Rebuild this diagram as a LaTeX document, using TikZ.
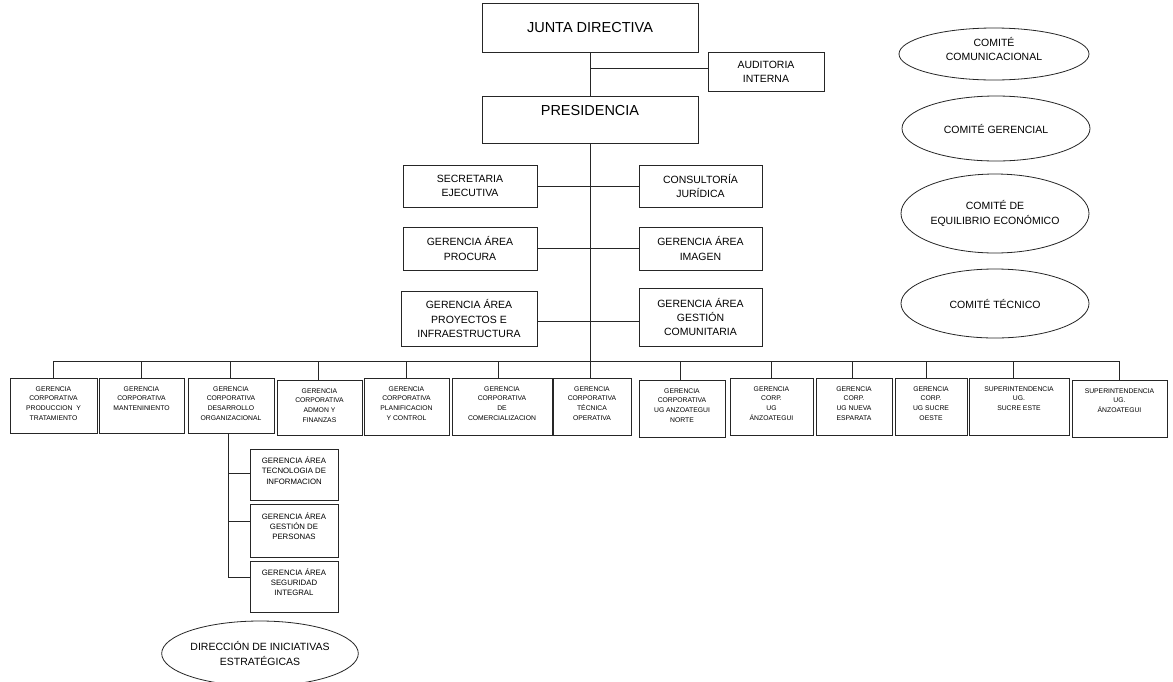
\documentclass[tikz,border=0pt]{standalone}
\usepackage{fontspec}
\setmainfont{Liberation Sans}
\usetikzlibrary{shapes.geometric}
\begin{document}
\begin{tikzpicture}[x=1pt,y=-1pt,
  box/.style={draw=black!85, line width=0.9pt, rectangle, inner sep=0pt, align=center},
  oval/.style={draw=black!85, line width=0.8pt, ellipse, inner sep=0pt, align=center},
  conn/.style={draw=black!85, line width=0.8pt},
  bigtxt/.style={font=\fontsize{14.5}{17}\selectfont},
  midtxt/.style={font=\fontsize{10.5}{14.3}\selectfont},
  subtxt/.style={font=\fontsize{7.8}{10.3}\selectfont, inner sep=0pt, align=center, anchor=north},
  tinytxt/.style={font=\fontsize{6.8}{9.7}\selectfont, inner sep=0pt, align=center, anchor=north}
]
\useasboundingbox (0,0) rectangle (1173,681);
\clip (0,0) rectangle (1173,681);
\fill[white] (0,0) rectangle (1173,681);

% top
\node[box, bigtxt, minimum width=216pt, minimum height=49pt] (junta) at (590,27.5) {JUNTA DIRECTIVA};
\node[box, midtxt, minimum width=116pt, minimum height=39pt] (aud) at (766,71.5) {AUDITORIA\\INTERNA};
\node[box, minimum width=216pt, minimum height=47pt] (pres) at (590,119.5) {};
\node[bigtxt, inner sep=0pt, anchor=north] (prest) at ([yshift=-10pt]pres.north) {PRESIDENCIA};

% middle
\node[box, midtxt, minimum width=134pt, minimum height=42pt] (sec) at (470,186) {SECRETARIA\\EJECUTIVA};
\node[box, midtxt, minimum width=123pt, minimum height=42pt] (cons) at (700.5,186) {CONSULTORÍA\\JURÍDICA};
\node[box, midtxt, minimum width=134pt, minimum height=43pt] (proc) at (470,248.5) {GERENCIA ÁREA\\PROCURA};
\node[box, midtxt, minimum width=123pt, minimum height=43pt] (img) at (700.5,248.5) {GERENCIA ÁREA\\IMAGEN};
\node[box, midtxt, minimum width=136pt, minimum height=55pt] (proy) at (469,318.5) {GERENCIA ÁREA\\PROYECTOS E\\INFRAESTRUCTURA};
\node[box, midtxt, minimum width=123pt, minimum height=58pt] (gest) at (700.5,317) {GERENCIA ÁREA\\GESTIÓN\\COMUNITARIA};

% committees
\node[oval, minimum width=190pt, minimum height=52pt] (c1) at (994,54) {};
\node[midtxt, align=center, inner sep=0pt] (c1t) at ([yshift=5pt]c1.center) {COMITÉ\\COMUNICACIONAL};
\node[oval, midtxt, minimum width=188pt, minimum height=65pt] (c2) at (996,128.5) {COMITÉ GERENCIAL};
\node[oval, midtxt, minimum width=188pt, minimum height=79pt] (c3) at (995,213.5) {COMITÉ DE\\EQUILIBRIO ECONÓMICO};
\node[oval, midtxt, minimum width=188pt, minimum height=69pt] (c4) at (995,303.5) {COMITÉ TÉCNICO};
\node[oval, midtxt, minimum width=194pt, minimum height=65pt] (dir) at (260,653.5) {DIRECCIÓN DE INICIATIVAS\\ESTRATÉGICAS};

% bottom row boxes
\foreach \n/\cx/\w/\cy/\h in {b1/53.5/87/405.5/55, b2/141.5/85/405.5/55, b3/231/86/405.5/55,
  b4/319.5/85/407.5/55, b5/406.5/85/406.5/57, b6/502/100/406.5/57, b7/592/78/406.5/57,
  b8/682/86/408.5/57, b9/771.5/83/406.5/57, b10/854/76/406.5/57, b11/931/72/406.5/57,
  b12/1019/100/406.5/57, b13/1119.5/95/408.5/57}
  \node[box, minimum width=\w pt, minimum height=\h pt] (\n) at (\cx,\cy) {};

\node[tinytxt] (b1t) at ([yshift=-8.5pt]b1.north) {GERENCIA\\CORPORATIVA\\PRODUCCION \ Y\\TRATAMIENTO};
\node[tinytxt] (b2t) at ([yshift=-8.5pt]b2.north) {GERENCIA\\CORPORATIVA\\MANTENINIENTO};
\node[tinytxt] (b3t) at ([yshift=-8.5pt]b3.north) {GERENCIA\\CORPORATIVA\\DESARROLLO\\ORGANIZACIONAL};
\node[tinytxt] (b4t) at ([yshift=-8.5pt]b4.north) {GERENCIA\\CORPORATIVA\\ADMON Y\\FINANZAS};
\node[tinytxt] (b5t) at ([yshift=-8.5pt]b5.north) {GERENCIA\\CORPORATIVA\\PLANIFICACION\\Y CONTROL};
\node[tinytxt] (b6t) at ([yshift=-8.5pt]b6.north) {GERENCIA\\CORPORATIVA\\DE\\COMERCIALIZACION};
\node[tinytxt] (b7t) at ([yshift=-8.5pt]b7.north) {GERENCIA\\CORPORATIVA\\TÉCNICA\\OPERATIVA};
\node[tinytxt] (b8t) at ([yshift=-8.5pt]b8.north) {GERENCIA\\CORPORATIVA\\UG ANZOATEGUI\\NORTE};
\node[tinytxt] (b9t) at ([yshift=-8.5pt]b9.north) {GERENCIA\\CORP.\\UG\\ÁNZOATEGUI};
\node[tinytxt] (b10t) at ([yshift=-8.5pt]b10.north) {GERENCIA\\CORP.\\UG NUEVA\\ESPARATA};
\node[tinytxt] (b11t) at ([yshift=-8.5pt]b11.north) {GERENCIA\\CORP.\\UG SUCRE\\OESTE};
\node[tinytxt] (b12t) at ([yshift=-8.5pt]b12.north) {SUPERINTENDENCIA\\UG.\\SUCRE ESTE};
\node[tinytxt] (b13t) at ([yshift=-8.5pt]b13.north) {SUPERINTENDENCIA\\UG.\\ÁNZOATEGUI};

% sub boxes
\node[box, minimum width=88pt, minimum height=51pt] (tec) at (294,474.5) {};
\node[box, minimum width=88pt, minimum height=53pt] (gp) at (294,530.5) {};
\node[box, minimum width=88pt, minimum height=51pt] (seg) at (294,586.5) {};
\node[subtxt] (tect) at ([yshift=-8pt]tec.north) {GERENCIA ÁREA\\TECNOLOGIA DE\\INFORMACION};
\node[subtxt] (gpt) at ([yshift=-8.5pt]gp.north) {GERENCIA ÁREA\\GESTIÓN DE\\PERSONAS};
\node[subtxt] (segt) at ([yshift=-7.5pt]seg.north) {GERENCIA ÁREA\\SEGURIDAD\\INTEGRAL};

% connectors
\coordinate (ja) at (590,68);
\draw[conn] (junta.south) -- (pres.north);
\draw[conn] (ja) -- (ja -| aud.west);
\draw[conn] (pres.south) -- (pres.south |- b7.north);
\draw[conn] (sec.east) -- (cons.west);
\draw[conn] (proc.east) -- (img.west);
\draw[conn] ([yshift=-3pt]proy.east) -- ([yshift=-3pt]proy.east -| gest.west);

\coordinate (bus) at (590,361);
\draw[conn] (b1.north |- bus) -- (b13.north |- bus);
\foreach \n/\dx in {b1/0,b2/0,b3/-1,b4/-1,b5/0,b6/-4,b8/-2,b9/0,b10/-2,b11/-5,b12/-6,b13/0}
  \draw[conn] ([xshift=\dx pt]\n.north |- bus) -- ([xshift=\dx pt]\n.north);

\coordinate (s0) at ([xshift=-3pt]b3.south);
\coordinate (s1) at (228,473);
\coordinate (s2) at (228,521);
\coordinate (s3) at (228,577);
\draw[conn] (s0) -- (s3) -- (s3 -| seg.west);
\draw[conn] (s1) -- (s1 -| tec.west);
\draw[conn] (s2) -- (s2 -| gp.west);
\end{tikzpicture}
\end{document}
